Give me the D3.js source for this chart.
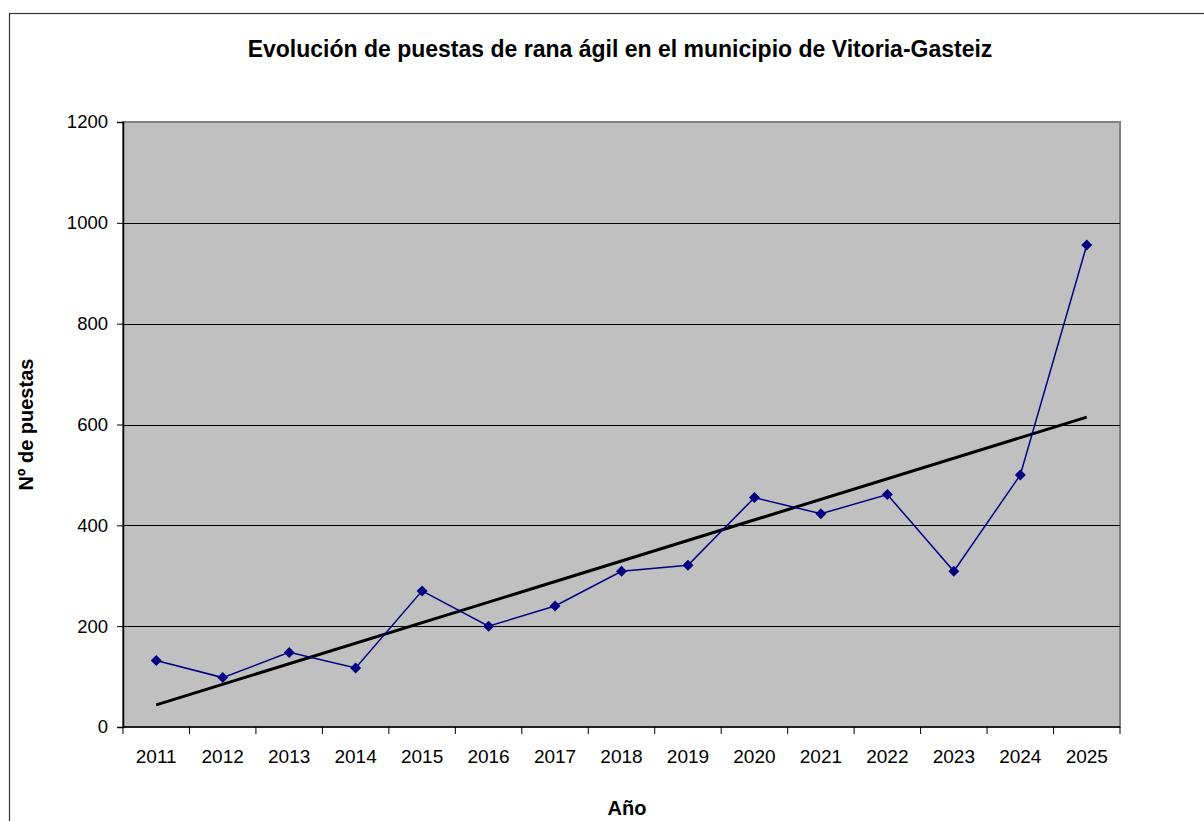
<!DOCTYPE html>
<html>
<head>
<meta charset="utf-8">
<script src="https://cdn.jsdelivr.net/npm/d3@7"></script>
<style>
  body { margin: 0; background: #fff; }
  svg text { font-family: "Liberation Sans", Arial, sans-serif; fill: #000; }
</style>
</head>
<body>
<div id="chart"></div>
<script>
// data
var years = ["2011","2012","2013","2014","2015","2016","2017","2018","2019","2020","2021","2022","2023","2024","2025"];
var puestas = [132, 98, 148, 117, 270, 200, 240, 309, 321, 455, 423, 461, 309, 500, 956];
var yTicks = [0, 200, 400, 600, 800, 1000, 1200];

var width = 1204, height = 821;
var plot = {left: 123, top: 122, right: 1120, bottom: 727};

var svg = d3.select("#chart").append("svg")
    .attr("width", width)
    .attr("height", height);

// outer chart border (right and bottom run off the picture)
svg.append("rect")
  .attr("x", 9.5).attr("y", 13.5)
  .attr("width", 1210).attr("height", 830)
  .attr("fill", "#fff")
  .attr("stroke", "#333")
  .attr("stroke-width", 1.2);

var x = d3.scaleBand().domain(years).range([plot.left, plot.right]).padding(0);
var y = d3.scaleLinear().domain([0, 1200]).range([plot.bottom, plot.top]);

// plot background
svg.append("rect")
  .attr("x", plot.left).attr("y", plot.top)
  .attr("width", plot.right - plot.left).attr("height", plot.bottom - plot.top)
  .attr("fill", "#c0c0c0")
  .attr("stroke", "#808080")
  .attr("stroke-width", 2);

// gridlines
svg.append("g").selectAll("line")
  .data(yTicks.filter(function(d){ return d > 0 && d < 1200 }))
  .enter().append("line")
    .attr("x1", plot.left).attr("x2", plot.right)
    .attr("y1", function(d){ return Math.round(y(d)) + 0.5 })
    .attr("y2", function(d){ return Math.round(y(d)) + 0.5 })
    .attr("stroke", "#000")
    .attr("stroke-width", 1);

// y axis
var yAxis = svg.append("g")
  .attr("transform", "translate(" + plot.left + ",0)")
  .call(d3.axisLeft(y).tickValues(yTicks).tickSize(6).tickPadding(9).tickFormat(d3.format("d")));
yAxis.select(".domain").attr("stroke", "#000").attr("stroke-width", 1.5);
yAxis.selectAll(".tick line").attr("stroke", "#000");
yAxis.selectAll("text").attr("font-size", "18.5px").attr("font-family", "Liberation Sans, Arial, sans-serif");

// x axis: ticks at category boundaries
var xAxis = svg.append("g")
  .attr("transform", "translate(0," + plot.bottom + ")");
xAxis.append("line")
  .attr("x1", plot.left).attr("x2", plot.right)
  .attr("y1", 0).attr("y2", 0)
  .attr("stroke", "#000").attr("stroke-width", 1.5);
var bounds = years.map(function(d){ return x(d) }).concat([plot.right]);
xAxis.selectAll(".bt").data(bounds).enter().append("line")
  .attr("class", "bt")
  .attr("x1", function(d){ return d }).attr("x2", function(d){ return d })
  .attr("y1", 0).attr("y2", 7)
  .attr("stroke", "#000");
xAxis.selectAll(".lbl").data(years).enter().append("text")
  .attr("class", "lbl")
  .attr("x", function(d){ return x(d) + x.bandwidth() / 2 })
  .attr("y", 36)
  .attr("text-anchor", "middle")
  .attr("font-size", "19px")
  .text(function(d){ return d });

// trend line (least squares, like the spreadsheet trendline)
var n = puestas.length;
var xs = d3.range(1, n + 1);
var mx = d3.mean(xs), my = d3.mean(puestas);
var sxy = d3.sum(xs, function(v, i){ return (v - mx) * (puestas[i] - my) });
var sxx = d3.sum(xs, function(v){ return (v - mx) * (v - mx) });
var slope = sxy / sxx, icpt = my - slope * mx;
var trend = [0, n - 1].map(function(i){ return {year: years[i], v: icpt + slope * (i + 1)} });

var cx = function(d){ return x(d) + x.bandwidth() / 2 };

svg.append("path")
  .datum(trend)
  .attr("d", d3.line().x(function(d){ return cx(d.year) }).y(function(d){ return y(d.v) }))
  .attr("fill", "none")
  .attr("stroke", "#000")
  .attr("stroke-width", 3);

// data series
var series = years.map(function(d, i){ return {year: d, v: puestas[i]} });
svg.append("path")
  .datum(series)
  .attr("d", d3.line().x(function(d){ return cx(d.year) }).y(function(d){ return y(d.v) }))
  .attr("fill", "none")
  .attr("stroke", "#000080")
  .attr("stroke-width", 1.5);

svg.append("g").selectAll("path")
  .data(series)
  .enter().append("path")
    .attr("transform", function(d){ return "translate(" + cx(d.year) + "," + y(d.v) + ")" })
    .attr("d", "M0,-5.5L5.5,0L0,5.5L-5.5,0Z")
    .attr("fill", "#000080");

// titles
svg.append("text")
  .attr("x", 620).attr("y", 57)
  .attr("text-anchor", "middle")
  .attr("font-size", "23px")
  .attr("font-weight", "bold")
  .text("Evolución de puestas de rana ágil en el municipio de Vitoria-Gasteiz");

svg.append("text")
  .attr("transform", "translate(33," + ((plot.top + plot.bottom) / 2) + ") rotate(-90)")
  .attr("text-anchor", "middle")
  .attr("font-size", "20px")
  .attr("font-weight", "bold")
  .text("Nº de puestas");

svg.append("text")
  .attr("x", 627).attr("y", 815)
  .attr("text-anchor", "middle")
  .attr("font-size", "20px")
  .attr("font-weight", "bold")
  .text("Año");
</script>
</body>
</html>
